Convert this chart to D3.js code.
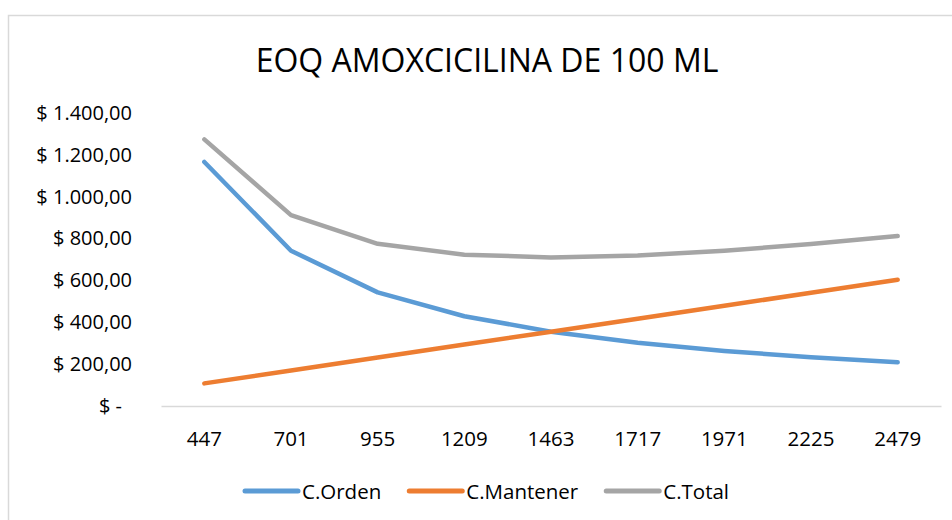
<!DOCTYPE html>
<html>
<head>
<meta charset="utf-8">
<script src="https://cdn.jsdelivr.net/npm/d3@7"></script>
<style>
  html, body { margin: 0; padding: 0; background: #fff; }
  svg { display: block; font-family: "Open Sans", Lato, sans-serif; }
</style>
</head>
<body>
<svg id="chart" width="952" height="520"></svg>
<script>
// EOQ cost curves for amoxicillin 100 ml
const title = "EOQ AMOXCICILINA DE 100 ML";
const quantities = ["447", "701", "955", "1209", "1463", "1717", "1971", "2225", "2479"];
const orderCost = [1166, 742, 543, 429, 355, 302, 263, 233, 209];
const holdingCost = [108, 170, 232, 294, 355, 417, 479, 541, 603];
const totalCost = [1274, 912, 775, 723, 710, 719, 742, 774, 812];
const seriesNames = ["C.Orden", "C.Mantener", "C.Total"];
const seriesColors = ["#5b9bd5", "#ed7d31", "#a5a5a5"];
const yTicks = [0, 200, 400, 600, 800, 1000, 1200, 1400];
const yTickLabels = ["$ -", "$ 200,00", "$ 400,00", "$ 600,00", "$ 800,00", "$ 1.000,00", "$ 1.200,00", "$ 1.400,00"];

const series = [orderCost, holdingCost, totalCost].map((values, i) => ({
  name: seriesNames[i], color: seriesColors[i], values
}));

const svg = d3.select("#chart");

// chart frame
svg.append("rect")
  .attr("x", 8.5).attr("y", 15.5)
  .attr("width", 960).attr("height", 520)
  .attr("fill", "#fff")
  .attr("stroke", "#d9d9d9").attr("stroke-width", 1.5);

const plot = { left: 161, right: 941, top: 113, bottom: 406 };

const x = d3.scaleBand().domain(quantities).range([plot.left, plot.right]);
const y = d3.scaleLinear().domain([0, 1400]).range([plot.bottom, plot.top]);

// title
svg.append("text")
  .attr("x", 487).attr("y", 72)
  .attr("text-anchor", "middle")
  .attr("font-size", 32)
  .attr("fill", "#000")
  .text(title);

// y axis labels
const yAxis = d3.axisLeft(y)
  .tickValues(yTicks)
  .tickSize(0)
  .tickPadding(0)
  .tickFormat((d, i) => yTickLabels[i]);
const gy = svg.append("g")
  .attr("transform", `translate(132,0)`)
  .call(yAxis)
  .attr("font-family", null)
  .attr("font-size", null);
gy.select(".domain").remove();
gy.selectAll("text")
  .attr("font-size", 20)
  .attr("fill", "#000")
  .attr("dx", d => d === 0 ? -10 : 0);

// x axis
const xAxis = d3.axisBottom(x).tickSize(0).tickPadding(0);
const gx = svg.append("g")
  .attr("transform", `translate(0,${plot.bottom})`)
  .call(xAxis)
  .attr("font-family", null)
  .attr("font-size", null);
gx.select(".domain").attr("stroke", "#d9d9d9").attr("stroke-width", 1.5);
gx.selectAll("text")
  .attr("font-size", 20.5)
  .attr("fill", "#000")
  .attr("y", 40)
  .attr("dy", 0);

// lines
const line = d3.line()
  .x((d, i) => x(quantities[i]) + x.bandwidth() / 2)
  .y(d => y(d));

svg.append("g").selectAll("path")
  .data(series)
  .join("path")
  .attr("d", d => line(d.values))
  .attr("fill", "none")
  .attr("stroke", d => d.color)
  .attr("stroke-width", 4.5)
  .attr("stroke-linecap", "round")
  .attr("stroke-linejoin", "round");

// legend, laid out left to right
const legend = svg.append("g").attr("transform", "translate(0,491)");
let cursor = 245;
series.forEach(s => {
  const item = legend.append("g").attr("transform", `translate(${cursor},0)`);
  item.append("line")
    .attr("x1", 0).attr("x2", 53)
    .attr("y1", 0).attr("y2", 0)
    .attr("stroke", s.color)
    .attr("stroke-width", 5)
    .attr("stroke-linecap", "round");
  const t = item.append("text")
    .attr("x", 57).attr("y", 7.5)
    .attr("font-size", 20.5)
    .attr("fill", "#000")
    .text(s.name);
  cursor += 57 + t.node().getComputedTextLength() + 28;
});
</script>
</body>
</html>
